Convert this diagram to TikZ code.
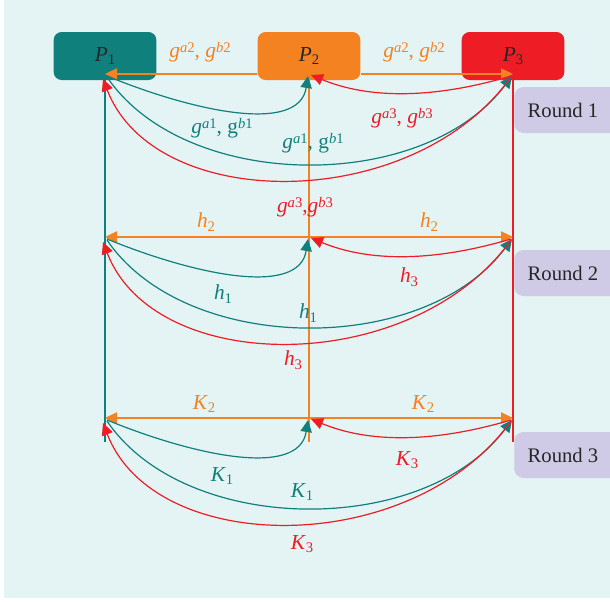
\documentclass[tikz,border=0pt]{standalone}
\usepackage{fontspec}
\setmainfont{Liberation Serif}
\usetikzlibrary{arrows.meta,calc}
\definecolor{tealc}{HTML}{10807C}
\definecolor{orangec}{HTML}{F58220}
\definecolor{redc}{HTML}{EE1C24}
\definecolor{lavc}{HTML}{CFCBE6}
\definecolor{bgc}{HTML}{E4F3F4}
\newcommand{\iv}[1]{\textit{#1}}
\newcommand{\supx}[1]{\raisebox{0.5ex}{\fontsize{11}{12}\selectfont #1}}
\newcommand{\subx}[1]{\raisebox{-0.35ex}{\fontsize{11}{12}\selectfont #1}}
\begin{document}
\begin{tikzpicture}[x=0.75pt,y=-0.75pt,
  pbox/.style={rounded corners=6pt, minimum width=77pt, minimum height=36pt, inner sep=0pt, text=black!85, font=\fontsize{16}{18}\selectfont},
  rbox/.style={rounded corners=7pt, fill=lavc, minimum width=80pt, minimum height=34.5pt, inner sep=0pt, anchor=west},
  rtext/.style={text=black!85, font=\fontsize{15.5}{18}\selectfont},
  lab/.style={font=\fontsize{16}{18}\selectfont, inner sep=0pt},
  arr/.style={-{Triangle[length=9pt,width=8.5pt]}, line width=0.9pt},
  vline/.style={line width=0.9pt}]
\useasboundingbox (0,0) rectangle (610,601);
\clip (0,0) rectangle (610,601);
\fill[bgc] (4,0) rectangle (610,598);
% round boxes
\node[rbox] (RB1) at (514,110) {};
\node[rbox] (RB2) at (514,273) {};
\node[rbox] (RB3) at (514,455) {};
\node[rtext] (RT1) at (563,110) {Round 1};
\node[rtext] (RT2) at (563,273) {Round 2};
\node[rtext] (RT3) at (563,455) {Round 3};
% process boxes
\node[pbox, fill=tealc] (P1) at (105,56) {\iv{P}\subx{1}};
\node[pbox, fill=orangec] (P2) at (309,56) {\iv{P}\subx{2}};
\node[pbox, fill=redc] (P3) at (513,56) {\iv{P}\subx{3}};
% coordinates
\coordinate (L1) at (105,74); \coordinate (M1) at (309,74); \coordinate (R1) at (513,74);
\coordinate (L2) at (105,237); \coordinate (M2) at (309,237); \coordinate (R2) at (513,237);
\coordinate (L3) at (105,418); \coordinate (M3) at (309,418); \coordinate (R3) at (513,418);
\coordinate (B1) at (105,442); \coordinate (B2) at (309,442); \coordinate (B3) at (513,442);
% vertical lines
\draw[vline, tealc] (P1.south) -- (B1);
\draw[vline, orangec] (P2.south) -- (B2);
\draw[vline, redc] (P3.south) -- (B3);
% round 1 horizontal
\draw[arr, orangec] (P2.west |- M1) -- (L1);
\draw[arr, orangec] (P2.east |- M1) -- (R1);
% rounds 2,3 horizontal
\foreach \r in {2,3}{
  \draw[arr, orangec] (M\r) -- (L\r);
  \draw[arr, orangec] (M\r) -- (R\r);
}
% curves
\foreach \r in {1,2,3}{
  \draw[arr, tealc] ($(L\r)+(2,2)$) .. controls ($(L\r)+(90,38)$) and ($(M\r)+(-10,60)$) .. ($(M\r)+(-1,2)$);
  \draw[arr, redc] ($(R\r)+(-2,2)$) .. controls ($(R\r)+(-80,25)$) and ($(M\r)+(60,25)$) .. ($(M\r)+(2,1)$);
  \draw[arr, tealc] ($(L\r)+(2,3)$) .. controls ($(L\r)+(80,118)$) and ($(R\r)+(-90,120)$) .. ($(R\r)+(-1,2)$);
  \draw[arr, redc] ($(R\r)+(-2,3)$) .. controls ($(R\r)+(-100,140)$) and ($(L\r)+(50,140)$) .. ($(L\r)+(-2,5)$);
}
% labels round 1
\node[lab, orangec] (g2a) at (200,52) {\iv{g}\supx{\iv{a}2}, \iv{g}\supx{\iv{b}2}};
\node[lab, orangec] (g2b) at (414,52) {\iv{g}\supx{\iv{a}2}, \iv{g}\supx{\iv{b}2}};
\node[lab, tealc] (g1a) at (222,128) {\iv{g}\supx{\iv{a}1}, g\supx{\iv{b}1}};
\node[lab, tealc] (g1b) at (313,143) {\iv{g}\supx{\iv{a}1}, g\supx{\iv{b}1}};
\node[lab, redc] (g3a) at (402,118) {\iv{g}\supx{\iv{a}3}, \iv{g}\supx{\iv{b}3}};
\node[lab, redc] (g3b) at (305,207) {\iv{g}\supx{\iv{a}3},\iv{g}\supx{\iv{b}3}};
% labels round 2
\node[lab, orangec] (h2a) at (206,222) {\iv{h}\subx{2}};
\node[lab, orangec] (h2b) at (429,222) {\iv{h}\subx{2}};
\node[lab, redc] (h3a) at (409,277) {\iv{h}\subx{3}};
\node[lab, tealc] (h1a) at (223,294) {\iv{h}\subx{1}};
\node[lab, tealc] (h1b) at (308,313) {\iv{h}\subx{1}};
\node[lab, redc] (h3b) at (293,360) {\iv{h}\subx{3}};
% labels round 3
\node[lab, orangec] (K2a) at (204,404) {\iv{K}\subx{2}};
\node[lab, orangec] (K2b) at (423,404) {\iv{K}\subx{2}};
\node[lab, redc] (K3a) at (407,460) {\iv{K}\subx{3}};
\node[lab, tealc] (K1a) at (222,476) {\iv{K}\subx{1}};
\node[lab, tealc] (K1b) at (302,492) {\iv{K}\subx{1}};
\node[lab, redc] (K3b) at (302,544) {\iv{K}\subx{3}};
\end{tikzpicture}
\end{document}
